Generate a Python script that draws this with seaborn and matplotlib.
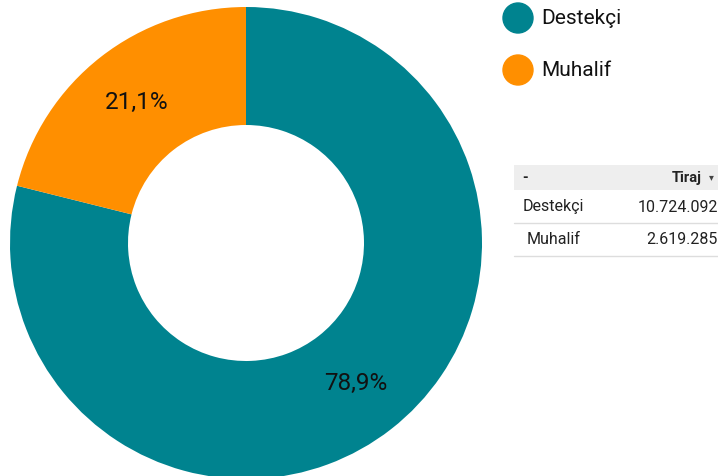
import matplotlib
matplotlib.use("Agg")
import matplotlib.pyplot as plt
import seaborn as sns
from matplotlib.patches import Circle, Rectangle

categories = ["Destekçi", "Muhalif"]
shares = [78.9, 21.1]
tiraj_labels = ["10.724.092", "2.619.285"]
colors = ["#00838F", "#FF8F00"]

sns.set_theme(style="white")
plt.rcParams['font.family'] = ['Roboto', 'DejaVu Sans']

W, H = 718, 476
fig = plt.figure(figsize=(W / 100, H / 100), dpi=100)

cx, cy, r = 246, 243, 236
ax = fig.add_axes([(cx - r) / W, (H - cy - r) / H, 2 * r / W, 2 * r / H])
wedges, texts, autotexts = ax.pie(
    shares, colors=colors, startangle=90, counterclock=False,
    wedgeprops=dict(width=0.5, edgecolor="none"),
    autopct=lambda p: f"{p:.1f}%".replace(".", ","), pctdistance=0.755,
    textprops=dict(fontsize=17.5, color="#111111"))
ax.set_xlim(-1, 1)
ax.set_ylim(-1, 1)
ax.set_aspect("equal")
ax.axis("off")

# Legend
ov = fig.add_axes([0, 0, 1, 1])
ov.set_xlim(0, W)
ov.set_ylim(H, 0)
ov.axis("off")
for i, (cat, col) in enumerate(zip(categories, colors)):
    y = 18 + 52 * i
    ov.add_patch(Circle((518, y), 15, color=col))
    ov.text(541, y + 1, cat, fontsize=15, va="center", ha="left", color="#111111")

# Table
ov.add_patch(Rectangle((514, 165), 204, 25, color="#eeeeee", lw=0))
ov.text(522, 178, "-", fontsize=10.5, va="center", ha="left", fontweight="bold", color="#222222")
ov.text(702, 178, "Tiraj", fontsize=10.5, va="center", ha="right", fontweight="bold", color="#222222")
ov.text(711, 177, "▾", fontsize=7, va="center", ha="center", color="#444444")
row_y = [207, 240]
for i, (cat, val) in enumerate(zip(categories, tiraj_labels)):
    y = row_y[i]
    ov.text(523 + 4 * i, y, cat, fontsize=11.5, va="center", ha="left", color="#222222")
    ov.text(718, y, val, fontsize=11.5, va="center", ha="right", color="#222222")
    ov.plot([514, 718], [y + 16, y + 16], color="#dddddd", lw=1)

fig.savefig("out.png", dpi=100)
